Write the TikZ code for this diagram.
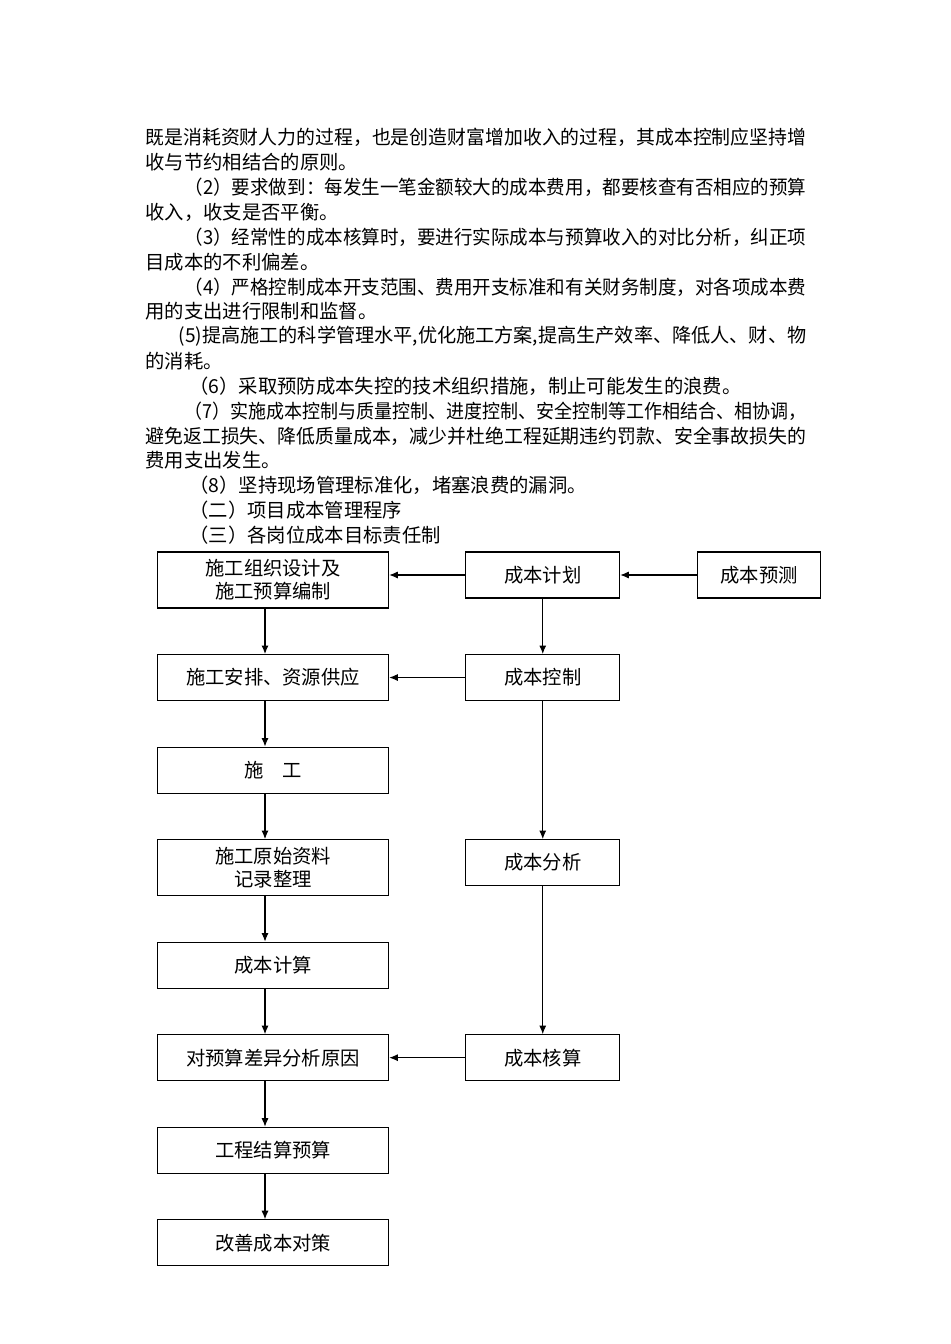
\documentclass[tikz,border=0pt]{standalone}
\usepackage{fontspec}
\usepackage{graphicx}
\setmainfont{Noto Sans CJK SC}
\usetikzlibrary{chains,positioning,arrows.meta}
\newcommand\bodysize{\fontsize{11}{13}\selectfont}
\newcommand\fullline[2]{\resizebox{#1}{\height}{#2}}

\begin{document}
\begin{tikzpicture}[
  x=0.02cm, y=-0.02cm,
  node distance=0.91cm and 1.52cm,
  every node/.style={font=\bodysize},
  text line/.style={anchor=west,inner sep=0pt},
  box node/.style={draw,align=center,inner sep=0pt,minimum height=0.92cm},
  left node/.style={box node,minimum width=4.63cm,on chain},
  mid node/.style={box node,minimum width=3.08cm},
  every path/.style={line width=0.6pt,>={Latex[length=1.7mm,width=1.4mm]}},
  start chain=going below,
  ]
  \useasboundingbox (0,0) rectangle (950,1344);
  % body text above the chart
  \node[text line](t1) at (145,137){\fullline{13.22cm}{既是消耗资财人力的过程，也是创造财富增加收入的过程，其成本控制应坚持增}};
  \node[text line](t2) at (145,162){收与节约相结合的原则。};
  \node[text line](t3) at (184,187){\fullline{12.44cm}{（2）要求做到：每发生一笔金额较大的成本费用，都要核查有否相应的预算}};
  \node[text line](t4) at (145,212){收入，收支是否平衡。};
  \node[text line](t5) at (184,237){\fullline{12.44cm}{（3）经常性的成本核算时，要进行实际成本与预算收入的对比分析，纠正项}};
  \node[text line](t6) at (145,262){目成本的不利偏差。};
  \node[text line](t7) at (184,287){\fullline{12.44cm}{（4）严格控制成本开支范围、费用开支标准和有关财务制度，对各项成本费}};
  \node[text line](t8) at (145,311){用的支出进行限制和监督。};
  \node[text line](t9) at (178,336){\fullline{12.56cm}{(5)提高施工的科学管理水平,优化施工方案,提高生产效率、降低人、财、物}};
  \node[text line](t10) at (145,361){的消耗。};
  \node[text line](t11) at (189,386){（6）采取预防成本失控的技术组织措施，制止可能发生的浪费。};
  \node[text line](t12) at (184,411){\fullline{12.44cm}{（7）实施成本控制与质量控制、进度控制、安全控制等工作相结合、相协调，}};
  \node[text line](t13) at (145,436){\fullline{13.22cm}{避免返工损失、降低质量成本，减少并杜绝工程延期违约罚款、安全事故损失的}};
  \node[text line](t14) at (145,460){费用支出发生。};
  \node[text line](t15) at (189,485){（8）坚持现场管理标准化，堵塞浪费的漏洞。};
  \node[text line](t16) at (189,510){（二）项目成本管理程序};
  \node[text line](t17) at (189,535){（三）各岗位成本目标责任制};
  % chart
  \node[left node,minimum height=1.12cm](a1) at (273,580){施工组织设计及\\施工预算编制};
  \node[left node](a2){施工安排、资源供应};
  \node[left node](a3){施\hspace{1em}工};
  \node[left node,minimum height=1.12cm](a4){施工原始资料\\记录整理};
  \node[left node](a5){成本计算};
  \node[left node](a6){对预算差异分析原因};
  \node[left node](a7){工程结算预算};
  \node[left node](a8){改善成本对策};
  \node[mid node,below right=0cm and 1.52cm of a1.north east](b1){成本计划};
  \node[mid node,below right=0cm and 1.52cm of a2.north east](b2){成本控制};
  \node[mid node,below right=0cm and 1.52cm of a4.north east](b4){成本分析};
  \node[mid node,below right=0cm and 1.52cm of a6.north east](b6){成本核算};
  \node[mid node,minimum width=2.46cm,right=1.54cm of b1](c1){成本预测};
  \path[->]
  (c1) edge (b1)
  (b1) edge (a1.east |- b1)
  (b2) edge (a2)
  (b6) edge (a6)
  (b1) edge (b2)
  (b2) edge (b4)
  (b4) edge (b6)
  ([xshift=-0.16cm]a1.south) edge ([xshift=-0.16cm]a2.north)
  ([xshift=-0.16cm]a2.south) edge ([xshift=-0.16cm]a3.north)
  ([xshift=-0.16cm]a3.south) edge ([xshift=-0.16cm]a4.north)
  ([xshift=-0.16cm]a4.south) edge ([xshift=-0.16cm]a5.north)
  ([xshift=-0.16cm]a5.south) edge ([xshift=-0.16cm]a6.north)
  ([xshift=-0.16cm]a6.south) edge ([xshift=-0.16cm]a7.north)
  ([xshift=-0.16cm]a7.south) edge ([xshift=-0.16cm]a8.north);
\end{tikzpicture}
\end{document}
